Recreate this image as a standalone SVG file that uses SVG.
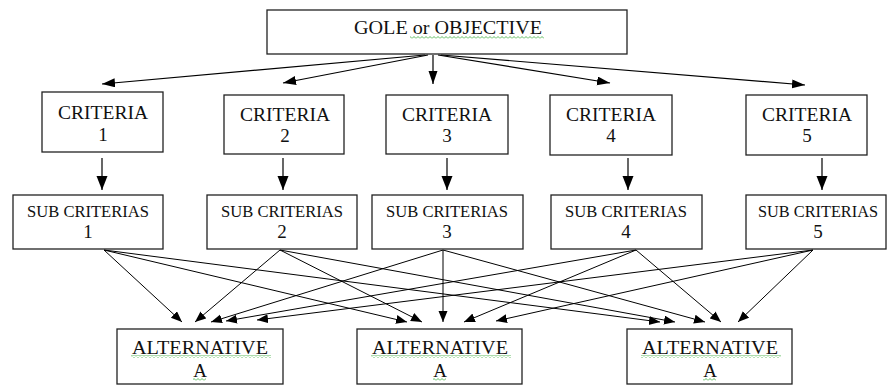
<svg xmlns="http://www.w3.org/2000/svg" width="888" height="385" viewBox="0 0 888 385">
<style>
.box{fill:#fff;stroke:#222;stroke-width:1.3}
.t{font-family:"Liberation Serif","Times New Roman",serif;font-size:19px;fill:#111;text-anchor:middle}
.s{font-size:17.5px}
.c{stroke:#000;stroke-width:1.2;fill:none}
.c1{stroke:#000;stroke-width:1;fill:none}
.sq{fill:url(#wave)}
</style>
<defs>
<pattern id="wave" patternUnits="userSpaceOnUse" x="0" y="0" width="4" height="3">
<polyline points="0,2.5 2,0.5 4,2.5" fill="none" stroke="#3a3" stroke-width="0.8"/>
</pattern>
<marker id="ab" markerUnits="userSpaceOnUse" markerWidth="14" markerHeight="11" refX="13" refY="4.5" orient="auto">
<path d="M0,0 L13,4.5 L0,9 z" fill="#000"/>
</marker>
<marker id="av" markerUnits="userSpaceOnUse" markerWidth="15" markerHeight="12" refX="14" refY="5.5" orient="auto">
<path d="M0,0 L14,5.5 L0,11 z" fill="#000"/>
</marker>
<marker id="as" markerUnits="userSpaceOnUse" markerWidth="12" markerHeight="10" refX="11" refY="4.5" orient="auto">
<path d="M0,0 L11,4.5 L0,9 z" fill="#000"/>
</marker>
</defs>

<g id="connectors">
<path class="c" d="M425,55 L102,84" marker-end="url(#ab)"/>
<path class="c" d="M428,55 L283,83" marker-end="url(#ab)"/>
<path class="c" d="M433,55 L433,84" marker-end="url(#ab)"/>
<path class="c" d="M438,55 L610,83" marker-end="url(#ab)"/>
<path class="c" d="M441,55 L805,85" marker-end="url(#ab)"/>

<path class="c" d="M102,158 L102,190" marker-end="url(#av)"/>
<path class="c" d="M283,158 L283,190" marker-end="url(#av)"/>
<path class="c" d="M447,158 L447,190" marker-end="url(#av)"/>
<path class="c" d="M628,158 L628,190" marker-end="url(#av)"/>
<path class="c" d="M822,158 L822,190" marker-end="url(#av)"/>

<path class="c1" d="M104,250 L182,322" marker-end="url(#as)"/>
<path class="c1" d="M104,250 L407,322" marker-end="url(#as)"/>
<path class="c1" d="M104,250 L660,322" marker-end="url(#as)"/>
<path class="c1" d="M280,250 L195,322" marker-end="url(#as)"/>
<path class="c1" d="M280,250 L422,322" marker-end="url(#as)"/>
<path class="c1" d="M280,250 L675,322" marker-end="url(#as)"/>
<path class="c1" d="M443,250 L211,322" marker-end="url(#as)"/>
<path class="c1" d="M443,250 L443,322" marker-end="url(#as)"/>
<path class="c1" d="M443,250 L705,322" marker-end="url(#as)"/>
<path class="c1" d="M636,250 L226,321" marker-end="url(#as)"/>
<path class="c1" d="M636,250 L464,322" marker-end="url(#as)"/>
<path class="c1" d="M636,250 L721,322" marker-end="url(#as)"/>
<path class="c1" d="M813,250 L257,320" marker-end="url(#as)"/>
<path class="c1" d="M813,250 L496,321" marker-end="url(#as)"/>
<path class="c1" d="M813,250 L738,322" marker-end="url(#as)"/>
</g>

<g id="goal">
<rect class="box" x="267" y="10" width="360" height="44"/>
<text class="t" x="448" y="34" textLength="188" lengthAdjust="spacingAndGlyphs">GOLE or  OBJECTIVE</text>
<rect class="sq" x="410" y="36" width="134" height="3"/>
</g>

<g id="criteria1">
<rect class="box" x="42" y="92" width="121" height="60"/>
<text class="t" x="103" y="119" textLength="90" lengthAdjust="spacingAndGlyphs">CRITERIA</text>
<text class="t" x="103" y="141">1</text>
</g>
<g id="criteria2">
<rect class="box" x="224" y="95" width="120" height="59"/>
<text class="t" x="285" y="121" textLength="90" lengthAdjust="spacingAndGlyphs">CRITERIA</text>
<text class="t" x="285" y="142">2</text>
</g>
<g id="criteria3">
<rect class="box" x="386" y="95" width="122" height="59"/>
<text class="t" x="447" y="121" textLength="90" lengthAdjust="spacingAndGlyphs">CRITERIA</text>
<text class="t" x="447" y="142">3</text>
</g>
<g id="criteria4">
<rect class="box" x="550" y="95" width="122" height="60"/>
<text class="t" x="611" y="121" textLength="90" lengthAdjust="spacingAndGlyphs">CRITERIA</text>
<text class="t" x="611" y="142">4</text>
</g>
<g id="criteria5">
<rect class="box" x="746" y="95" width="121" height="60"/>
<text class="t" x="807" y="121" textLength="90" lengthAdjust="spacingAndGlyphs">CRITERIA</text>
<text class="t" x="807" y="142">5</text>
</g>

<g id="sub1">
<rect class="box" x="13" y="195" width="150" height="54"/>
<text class="t s" x="88" y="217" textLength="122" lengthAdjust="spacingAndGlyphs">SUB CRITERIAS</text>
<text class="t" x="88" y="238">1</text>
</g>
<g id="sub2">
<rect class="box" x="207" y="195" width="150" height="54"/>
<text class="t s" x="282" y="217" textLength="122" lengthAdjust="spacingAndGlyphs">SUB CRITERIAS</text>
<text class="t" x="282" y="238">2</text>
</g>
<g id="sub3">
<rect class="box" x="372" y="195" width="151" height="54"/>
<text class="t s" x="447" y="217" textLength="122" lengthAdjust="spacingAndGlyphs">SUB CRITERIAS</text>
<text class="t" x="447" y="238">3</text>
</g>
<g id="sub4">
<rect class="box" x="551" y="195" width="151" height="54"/>
<text class="t s" x="626" y="217" textLength="122" lengthAdjust="spacingAndGlyphs">SUB CRITERIAS</text>
<text class="t" x="626" y="238">4</text>
</g>
<g id="sub5">
<rect class="box" x="746" y="195" width="140" height="54"/>
<text class="t s" x="818" y="217" textLength="120" lengthAdjust="spacingAndGlyphs">SUB CRITERIAS</text>
<text class="t" x="818" y="238">5</text>
</g>

<g id="alt1">
<rect class="box" x="117" y="329" width="166" height="55"/>
<text class="t" x="200" y="354" textLength="136" lengthAdjust="spacingAndGlyphs">ALTERNATIVE</text>
<text class="t" x="200" y="377">A</text>
<rect class="sq" x="131" y="355" width="140" height="3"/>
<rect class="sq" x="193" y="378" width="13" height="3"/>
</g>
<g id="alt2">
<rect class="box" x="357" y="329" width="165" height="55"/>
<text class="t" x="440" y="354" textLength="136" lengthAdjust="spacingAndGlyphs">ALTERNATIVE</text>
<text class="t" x="440" y="377">A</text>
<rect class="sq" x="371" y="355" width="140" height="3"/>
<rect class="sq" x="433" y="378" width="13" height="3"/>
</g>
<g id="alt3">
<rect class="box" x="627" y="329" width="165" height="55"/>
<text class="t" x="710" y="354" textLength="136" lengthAdjust="spacingAndGlyphs">ALTERNATIVE</text>
<text class="t" x="710" y="377">A</text>
<rect class="sq" x="641" y="355" width="140" height="3"/>
<rect class="sq" x="703" y="378" width="13" height="3"/>
</g>
</svg>
